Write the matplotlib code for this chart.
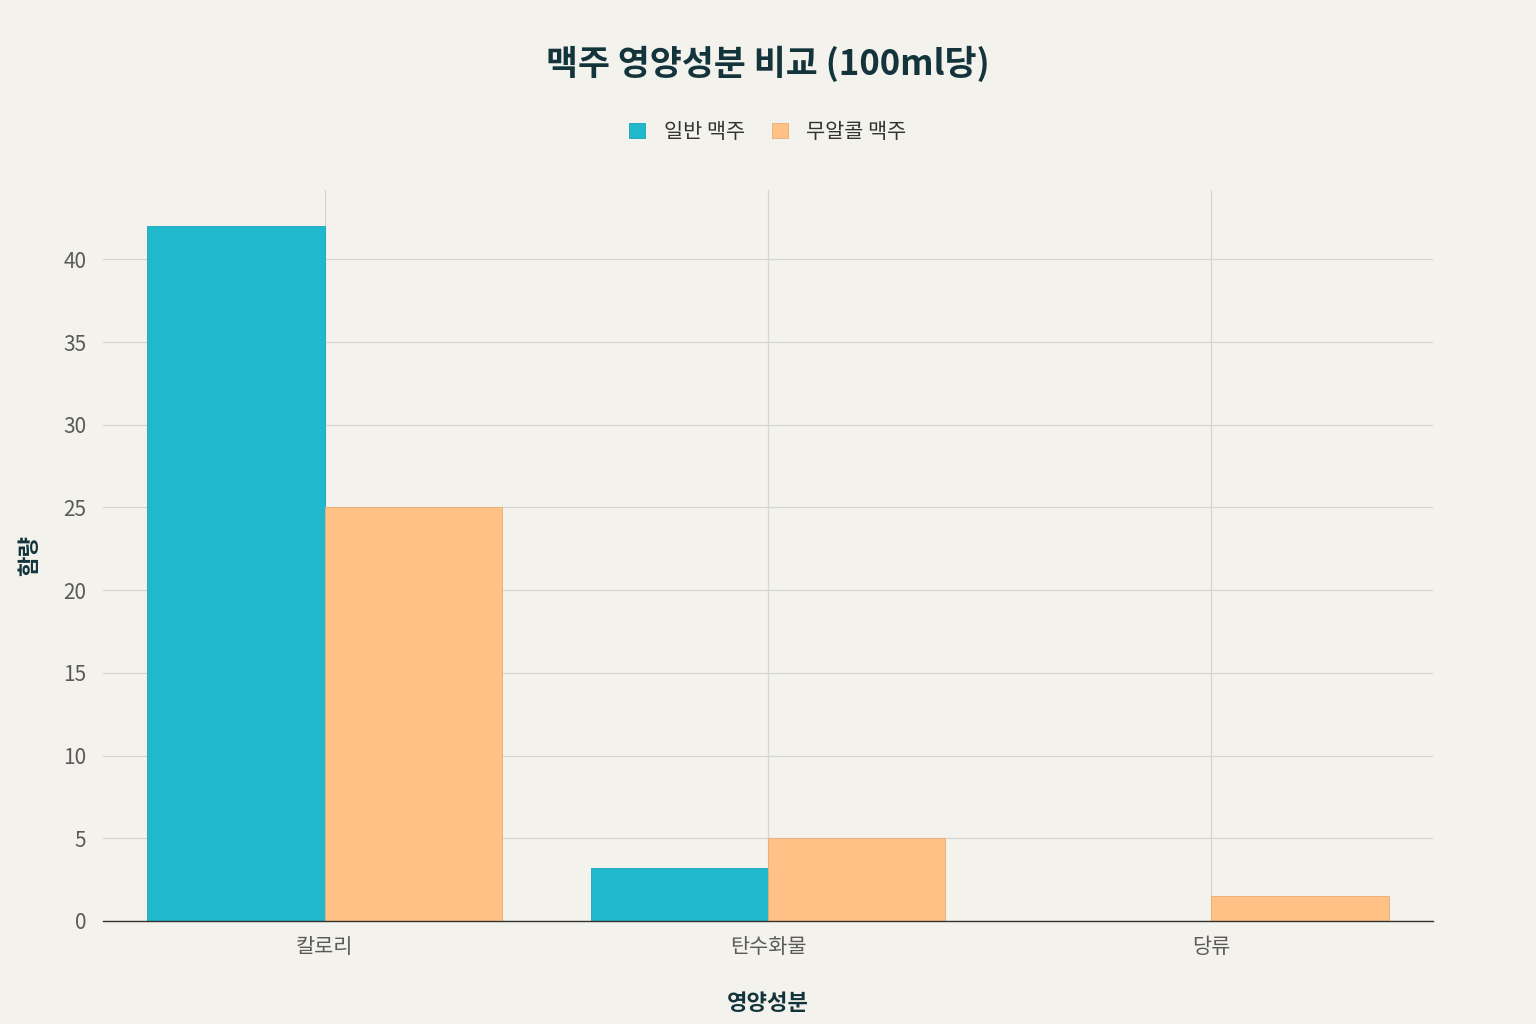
import matplotlib
matplotlib.use("Agg")
import matplotlib.pyplot as plt
import numpy as np

plt.rcParams['font.family'] = ['Noto Sans CJK KR', 'DejaVu Sans']

categories = ["칼로리", "탄수화물", "당류"]
regular = [42, 3.2, 0]
non_alcoholic = [25, 5, 1.5]
series_names = ["일반 맥주", "무알콜 맥주"]
yticks = [0, 5, 10, 15, 20, 25, 30, 35, 40]

bg = "#F3F2EC"
fig = plt.figure(figsize=(15.36, 10.24), dpi=100, facecolor=bg)
ax = fig.add_axes([0.067, 0.1006, 0.866, 0.714], facecolor=bg)

x = np.arange(len(categories))
w = 0.4
ax.bar(x - w/2, regular, w, color="#1FB8CD", edgecolor="#1aa3b5", linewidth=0.6, label=series_names[0], zorder=3)
ax.bar(x + w/2, non_alcoholic, w, color="#FFC185", edgecolor="#e8ad74", linewidth=0.6, label=series_names[1], zorder=3)

ax.set_xlim(-0.5, 2.5)
ax.set_ylim(0, 44.2)
ax.set_xticks(x)
ax.set_xticklabels(categories)
ax.set_yticks(yticks)
ax.tick_params(axis='both', length=0, labelsize=15, colors="#5a5a5a")
ax.tick_params(axis='x', pad=11)
ax.tick_params(axis='y', pad=12)
ax.grid(True, color="#d6d6d0", linewidth=0.9, zorder=0)
for s in ["top", "right", "left"]:
    ax.spines[s].set_visible(False)
ax.spines["bottom"].set_color("#333333")
ax.spines["bottom"].set_linewidth(1.0)
ax.spines["bottom"].set_zorder(4)

ax.set_xlabel("영양성분", fontsize=16, fontweight="bold", color="#13343B", labelpad=24)
ax.set_ylabel("함량", fontsize=16, fontweight="bold", color="#13343B", labelpad=16)

fig.suptitle("맥주 영양성분 비교 (100ml당)", y=0.955, fontsize=25, fontweight="bold", color="#13343B")
fig.legend(loc="center", bbox_to_anchor=(0.5, 0.871), ncol=2, frameon=False, fontsize=15,
           handlelength=0.75, handleheight=0.75, columnspacing=1.3, handletextpad=0.9,
           labelcolor="#333333")

fig.savefig("out.png", dpi=100, facecolor=bg)
